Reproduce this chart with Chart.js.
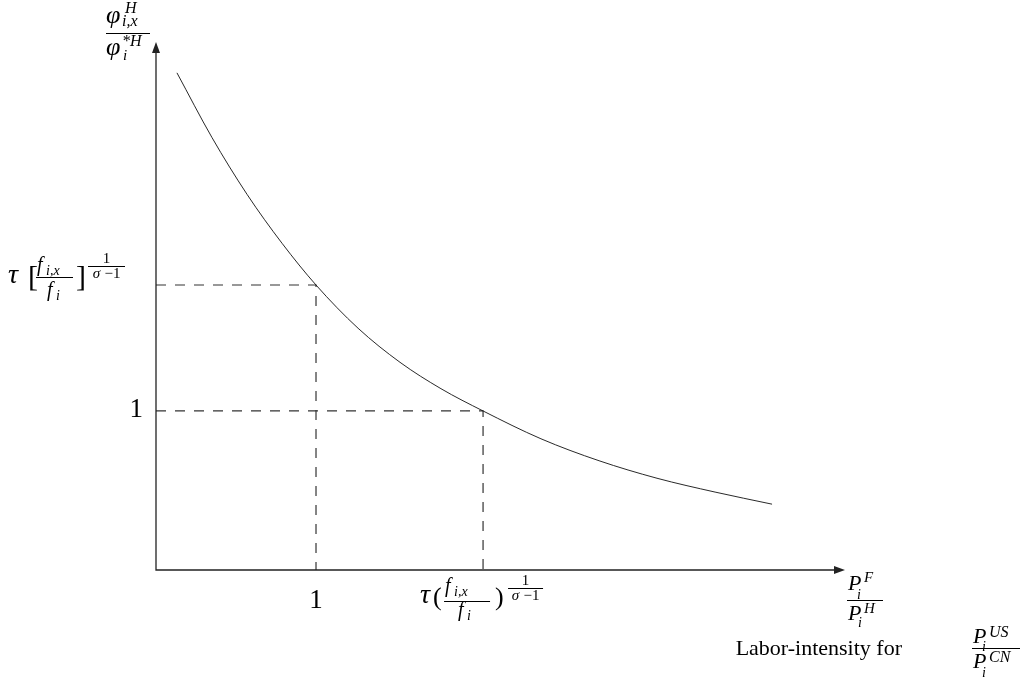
<!DOCTYPE html>
<html>
<head>
<meta charset="utf-8">
<script src="https://cdn.jsdelivr.net/npm/chart.js@4"></script>
<style>
  body { margin: 0; background: #fff; }
  canvas { display: block; }
</style>
</head>
<body>
<canvas id="grafica" width="1025" height="680"></canvas>
<script>
// Points of the productivity cutoff curve
const curvaX = [0.131, 0.350, 0.569, 0.788, 1.000, 1.263, 1.525, 1.781, 2.044, 2.406, 2.769, 3.131, 3.494, 3.850];
const curvaY = [3.126, 2.719, 2.362, 2.054, 1.792, 1.520, 1.306, 1.140, 1.000, 0.825, 0.687, 0.577, 0.490, 0.414];

// Dashed guides: (x, y) on the curve, dropped to both axes
const guiaX = [1, 2.044];
const guiaY = [1.792, 1];

// Axis ranges (arrow tips)
const limiteX = 4.306;
const limiteY = 3.32;

const serif = '"Liberation Serif", "Times New Roman", serif';

function texto(ctx, t, x, y, size, italic, align) {
  ctx.font = (italic ? 'italic ' : '') + size + 'px ' + serif;
  ctx.textAlign = align || 'left';
  ctx.textBaseline = 'alphabetic';
  ctx.fillText(t, x, y);
}

function barra(ctx, x1, x2, y) {
  ctx.beginPath();
  ctx.moveTo(x1, y);
  ctx.lineTo(x2, y);
  ctx.stroke();
}

// Layout of the two tau labels (offsets from tau's left edge / baseline)
const disenoY = { abre: '[', cierra: ']', pAbre: 20, num: 29, barra: [28, 65], den: 39, pCierra: 68, sup: [80, 117],
  vNum: -12, vBarra: -6, vDen: 13, vPar: 3, par: 30, vUno: -20, vSup: -17, vSigma: -5 };
const disenoX = { abre: '(', cierra: ')', pAbre: 13, num: 25, barra: [24, 70], den: 38, pCierra: 75, sup: [88, 123],
  vNum: -11, vBarra: -2, vDen: 13, vPar: 2, par: 26, vUno: -18, vSup: -15, vSigma: -3 };

// tau [ f_{i,x} / f_i ]^{1/(sigma-1)}
function etiquetaTau(ctx, x0, b, d) {
  texto(ctx, '\u03c4', x0, b, 28, true);
  texto(ctx, d.abre, x0 + d.pAbre, b + d.vPar, d.par, false);
  texto(ctx, 'f', x0 + d.num, b + d.vNum, 20, true);
  texto(ctx, 'i,x', x0 + d.num + 9, b + d.vNum + 4, 14, true);
  barra(ctx, x0 + d.barra[0], x0 + d.barra[1], b + d.vBarra + 0.5);
  texto(ctx, 'f', x0 + d.den, b + d.vDen, 20, true);
  texto(ctx, 'i', x0 + d.den + 9, b + d.vDen + 4, 14, true);
  texto(ctx, d.cierra, x0 + d.pCierra, b + d.vPar, d.par, false);
  const c = (d.sup[0] + d.sup[1]) / 2 + x0;
  texto(ctx, '1', c, b + d.vUno, 15, false, 'center');
  barra(ctx, x0 + d.sup[0], x0 + d.sup[1], b + d.vSup + 0.5);
  texto(ctx, '\u03c3', c - 10, b + d.vSigma, 15, true, 'center');
  texto(ctx, '\u22121', c + 6, b + d.vSigma, 15, false, 'center');
}

// Axes with arrows plus all the labels
const ejes = {
  id: 'ejes',
  afterDatasetsDraw(chart) {
    const { ctx, chartArea: a, scales } = chart;
    const sx = scales.x, sy = scales.y;
    ctx.save();
    ctx.strokeStyle = '#222';
    ctx.fillStyle = '#222';
    ctx.lineWidth = 1.3;
    ctx.beginPath();
    ctx.moveTo(a.left, a.top + 8);
    ctx.lineTo(a.left, a.bottom);
    ctx.lineTo(a.right - 8, a.bottom);
    ctx.stroke();
    // arrow heads
    ctx.beginPath();
    ctx.moveTo(a.right, a.bottom);
    ctx.lineTo(a.right - 11, a.bottom - 4);
    ctx.lineTo(a.right - 11, a.bottom + 4);
    ctx.closePath();
    ctx.fill();
    ctx.beginPath();
    ctx.moveTo(a.left, a.top);
    ctx.lineTo(a.left - 4, a.top + 11);
    ctx.lineTo(a.left + 4, a.top + 11);
    ctx.closePath();
    ctx.fill();

    ctx.fillStyle = '#000';
    ctx.strokeStyle = '#000';
    ctx.lineWidth = 1;

    // y axis title: phi^H_{i,x} / phi_i^{*H}
    const l = a.left, t = a.top;
    texto(ctx, '\u03c6', l - 50, t - 19, 26, true);
    texto(ctx, 'H', l - 31, t - 29, 16, true);
    texto(ctx, 'i,x', l - 34, t - 16, 16, true);
    barra(ctx, l - 50, l - 6, t - 8.5);
    texto(ctx, '\u03c6', l - 50, t + 13, 26, true);
    texto(ctx, '*H', l - 34, t + 4, 16, true);
    texto(ctx, 'i', l - 33, t + 18, 15, true);

    // x axis title: P_i^F / P_i^H
    const r = a.right, b = a.bottom;
    texto(ctx, 'P', r + 3, b + 20, 22, true);
    texto(ctx, 'F', r + 19, b + 12, 15, true);
    texto(ctx, 'i', r + 12, b + 29, 14, true);
    barra(ctx, r + 2, r + 38, b + 30.5);
    texto(ctx, 'P', r + 3, b + 50, 22, true);
    texto(ctx, 'H', r + 19, b + 43, 15, true);
    texto(ctx, 'i', r + 13, b + 57, 14, true);

    // second title line
    texto(ctx, 'Labor-intensity for', r + 57, b + 85, 22, false, 'right');
    texto(ctx, 'P', r + 128, b + 73, 22, true);
    texto(ctx, 'US', r + 144, b + 67, 16, true);
    texto(ctx, 'i', r + 137, b + 81, 14, true);
    barra(ctx, r + 127, r + 175, b + 78.5);
    texto(ctx, 'P', r + 128, b + 98, 22, true);
    texto(ctx, 'CN', r + 144, b + 92, 16, true);
    texto(ctx, 'i', r + 137, b + 107, 14, true);

    // ticks on the y axis
    const y1 = sy.getPixelForValue(guiaY[1]);
    texto(ctx, '1', l - 13, y1 + 6, 27, false, 'right');
    etiquetaTau(ctx, 8, sy.getPixelForValue(guiaY[0]) - 2, disenoY);

    // ticks on the x axis
    texto(ctx, '1', sx.getPixelForValue(guiaX[0]), b + 38, 27, false, 'center');
    etiquetaTau(ctx, sx.getPixelForValue(guiaX[1]) - 63, b + 33, disenoX);
    ctx.restore();
  }
};

const guia = (gx, gy) => ({
  data: [{ x: 0, y: gy }, { x: gx, y: gy }, { x: gx, y: 0 }],
  showLine: true,
  borderColor: '#333',
  borderWidth: 1.2,
  borderDash: [10, 9],
  pointRadius: 0,
  tension: 0
});

const ctxGrafica = document.getElementById('grafica').getContext('2d');
new Chart(ctxGrafica, {
  type: 'scatter',
  data: {
    datasets: [
      {
        data: curvaX.map((x, i) => ({ x: x, y: curvaY[i] })),
        showLine: true,
        borderColor: '#111',
        borderWidth: 0.9,
        pointRadius: 0,
        cubicInterpolationMode: 'monotone'
      },
      guia(guiaX[0], guiaY[0]),
      guia(guiaX[1], guiaY[1])
    ]
  },
  options: {
    responsive: false,
    animation: false,
    layout: { padding: { left: 156, right: 180, top: 42, bottom: 110 } },
    scales: {
      x: { type: 'linear', display: false, min: 0, max: limiteX },
      y: { display: false, min: 0, max: limiteY }
    },
    plugins: {
      legend: { display: false },
      tooltip: { enabled: false }
    }
  },
  plugins: [ejes]
});
</script>
</body>
</html>
